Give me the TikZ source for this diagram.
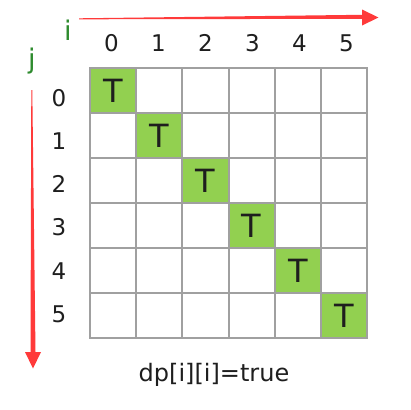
\documentclass[tikz,border=0pt]{standalone}
\usepackage{fontspec}
\setmainfont{DejaVu Sans}
\usetikzlibrary{calc}
\definecolor{arrowred}{HTML}{FF3A3A}
\definecolor{labgreen}{HTML}{2E8B2E}
\definecolor{cellgreen}{HTML}{92D050}
\definecolor{gridgray}{HTML}{A0A0A0}
\definecolor{textdark}{HTML}{1E1E1E}
\begin{document}
\begin{tikzpicture}[x=1pt,y=-1pt,
  cell/.style={draw=gridgray,line width=1.9pt,minimum width=46.2pt,minimum height=45.05pt,inner sep=0pt,text=textdark,font=\fontsize{32}{34}\selectfont},
  tcell/.style={cell,fill=cellgreen},
  idx/.style={inner sep=0pt,text=textdark,font=\fontsize{23}{25}\selectfont},
  axlab/.style={inner sep=0pt,text=labgreen,font=\fontsize{27}{29}\selectfont},
  caption/.style={inner sep=0pt,text=textdark,font=\fontsize{24}{26}\selectfont}]
\useasboundingbox[fill=white] (0,0) rectangle (410,410);
% grid
\foreach \r in {0,...,5}{
  \foreach \c in {0,...,5}{
    \ifnum\r=\c
      \node[tcell] (cell\r\c) at ({113.1+46.2*\c},{90.5+45.05*\r}) {T};
    \else
      \node[cell] (cell\r\c) at ({113.1+46.2*\c},{90.5+45.05*\r}) {};
    \fi
  }
}
% column / row indices
\foreach \c in {0,...,5}{
  \node[idx] (col\c) at ({111.5+47*\c},43) {\c};
}
\foreach \r in {0,...,5}{
  \node[idx] (row\r) at (59,{98+43.2*\r}) {\r};
}
% axis labels
\node[axlab] (ilab) at (68,30) {i};
\node[axlab] (jlab) at (32,61.5) {j};
% caption
\node[caption,anchor=base] (cap) at (214,381.7) {dp[i][i]=true};
% arrows
\coordinate (itail) at (79,18.8);
\coordinate (itip) at (378.5,17.5);
\coordinate (jtail) at (31.8,90);
\coordinate (jtip) at (33,368.5);
\fill[arrowred] ($(itail)+(0,-0.5)$) -- (362,14.8) -- (362,9.5) -- (itip) -- (362,25.5) -- (362,18.8) -- ($(itail)+(0,0.5)$) -- cycle;
\fill[arrowred] ($(jtail)+(-0.5,0)$) -- (30.5,352) -- (25,352) -- (jtip) -- (41,352) -- (35.5,352) -- ($(jtail)+(0.5,0)$) -- cycle;
\end{tikzpicture}
\end{document}
